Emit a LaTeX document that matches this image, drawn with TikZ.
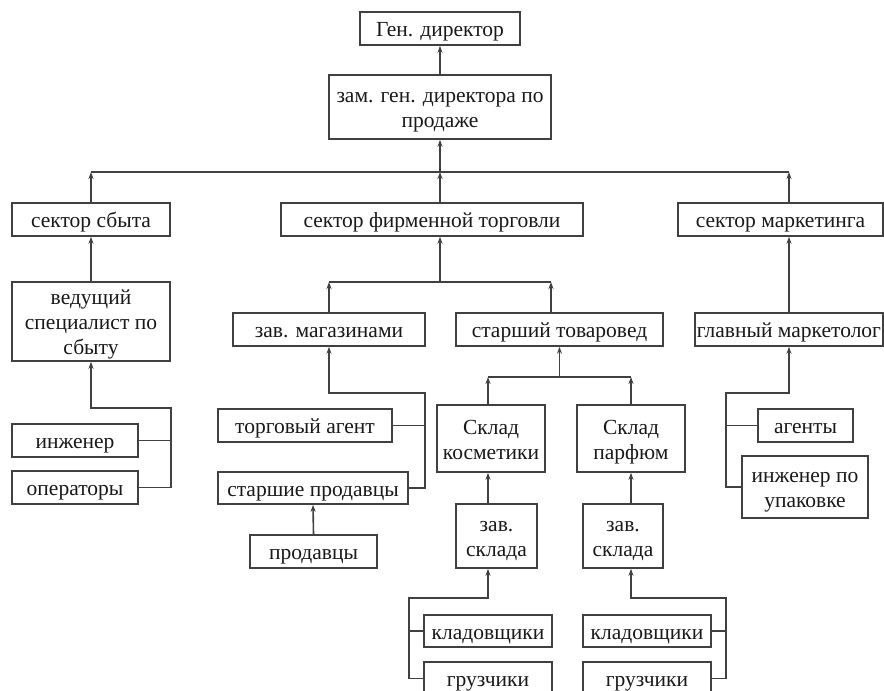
\documentclass[tikz,border=0pt]{standalone}
\usepackage{fontspec}
\setmainfont{Liberation Serif}
\usetikzlibrary{arrows.meta}
\newcommand{\tx}[1]{\vbox{\kern3pt\hbox{\begin{tabular}{@{}c@{}}#1\end{tabular}}\kern-3pt}}
\tikzset{
  box/.style={draw=black!75, line width=1.6pt, rectangle, inner sep=1pt,
    font=\fontsize{21.5}{25}\selectfont, text=black!90},
  link/.style={draw=black!75, line width=1.6pt},
  arr/.style={link, -{Stealth[length=7pt,width=5pt]}}
}
\begin{document}
\begin{tikzpicture}[x=1pt,y=-1pt]
  \clip (0,0) rectangle (884,691);
  \fill[white] (0,0) rectangle (884,691);
  % top
  \node[box, minimum width=160, minimum height=33] (gen) at (440,28.5) {\tx{Ген. директор}};
  \node[box, minimum width=222, minimum height=64] (zam) at (440,107) {\tx{зам. ген. директора по\\продаже}};
  % sectors
  \node[box, minimum width=158, minimum height=33] (sbyt) at (91,219.5) {\tx{сектор сбыта}};
  \node[box, minimum width=302, minimum height=33] (firm) at (432,219.5) {\tx{сектор фирменной торговли}};
  \node[box, minimum width=205, minimum height=33] (mark) at (780.5,219.5) {\tx{сектор маркетинга}};
  % sales
  \node[box, minimum width=158, minimum height=79] (ved) at (91,321.5) {\tx{ведущий\\специалист по\\сбыту}};
  \node[box, minimum width=126, minimum height=33] (ing) at (75,440.5) {\tx{инженер}};
  \node[box, minimum width=126, minimum height=33] (oper) at (75,487.5) {\tx{операторы}};
  % firm trade
  \node[box, minimum width=192, minimum height=33] (zavmag) at (329,329.5) {\tx{зав. магазинами}};
  \node[box, minimum width=207, minimum height=33] (starTov) at (559.5,329.5) {\tx{старший товаровед}};
  \node[box, minimum width=174, minimum height=33] (agent) at (305,425.5) {\tx{торговый агент}};
  \node[box, minimum width=190, minimum height=32] (starProd) at (313,488) {\tx{старшие продавцы}};
  \node[box, minimum width=127, minimum height=33] (prod) at (313.5,551.5) {\tx{продавцы}};
  \node[box, minimum width=108, minimum height=67] (sklKos) at (491,438.5) {\tx{Склад\\косметики}};
  \node[box, minimum width=108, minimum height=67] (sklPar) at (631,438.5) {\tx{Склад\\парфюм}};
  \node[box, minimum width=81, minimum height=64] (zavSkl1) at (496.5,536) {\tx{зав.\\склада}};
  \node[box, minimum width=80, minimum height=64] (zavSkl2) at (623,536) {\tx{зав.\\склада}};
  \node[box, minimum width=128, minimum height=32] (klad1) at (488,631) {\tx{кладовщики}};
  \node[box, minimum width=128, minimum height=33] (gruz1) at (488,678.5) {\tx{грузчики}};
  \node[box, minimum width=128, minimum height=32] (klad2) at (647,631) {\tx{кладовщики}};
  \node[box, minimum width=128, minimum height=33] (gruz2) at (647,678.5) {\tx{грузчики}};
  % marketing
  \node[box, minimum width=188, minimum height=33] (glavMark) at (789,329.5) {\tx{главный маркетолог}};
  \node[box, minimum width=95, minimum height=33] (agenty) at (805.5,425.5) {\tx{агенты}};
  \node[box, minimum width=126, minimum height=62] (ingUp) at (805,487) {\tx{инженер по\\упаковке}};

  % bus points
  \coordinate (bus1) at (440,172);
  \coordinate (f1) at (440,282);
  \coordinate (f2) at (551,282);
  \coordinate (s1) at (559,377);
  \coordinate (v1) at (171,408);
  \coordinate (m1) at (425,393);
  \coordinate (g1) at (726,393);
  \coordinate (k1) at (409,598);
  \coordinate (k2) at (726,598);

  \draw[arr] (zam.north) -- (gen.south);
  \draw[arr] (bus1) -- (zam.south);
  \draw[link] (sbyt.north |- bus1) -- (glavMark |- bus1);
  \draw[arr] (sbyt.north) -- (sbyt.north |- bus1);
  \draw[arr] (zam |- firm.north) -- (bus1);
  \draw[arr] (glavMark |- mark.north) -- (glavMark |- bus1);

  \draw[arr] (ved.north) -- (sbyt.south);
  \draw[link] (ing.east) -- (ing.east -| v1);
  \draw[arr] (oper.east) -| (v1) -| (ved.south);

  \draw[arr] (f1) -- (zam |- firm.south);
  \draw[link] (zavmag |- f1) -- (f2);
  \draw[arr] (zavmag.north) -- (zavmag |- f1);
  \draw[arr] (f2 |- starTov.north) -- (f2);
  \draw[link] (agent.east) -- (agent.east -| m1);
  \draw[arr] (starProd.east) -| (m1) -| (zavmag.south);
  \draw[arr] (prod.north) -- (starProd.south);

  \draw[arr] (starTov.south |- s1) -- (starTov.south);
  \draw[link] (klad1 |- s1) -- (sklPar |- s1);
  \draw[arr] (klad1 |- sklKos.north) -- (klad1 |- s1);
  \draw[arr] (sklPar.north) -- (sklPar |- s1);
  \draw[arr] (klad1 |- zavSkl1.north) -- (klad1 |- sklKos.south);
  \draw[arr] (sklPar |- zavSkl2.north) -- (sklPar.south);
  \draw[link] (klad1.west) -- (klad1.west -| k1);
  \draw[arr] (gruz1.west) -| (k1) -| (klad1 |- zavSkl1.south);
  \draw[link] (klad2.east) -- (klad2.east -| k2);
  \draw[arr] (gruz2.east) -| (k2) -| (sklPar |- zavSkl2.south);

  \draw[arr] (glavMark.north) -- (glavMark |- mark.south);
  \draw[link] (agenty.west) -- (agenty.west -| g1);
  \draw[arr] (ingUp.west) -| (g1) -| (glavMark.south);
\end{tikzpicture}
\end{document}
